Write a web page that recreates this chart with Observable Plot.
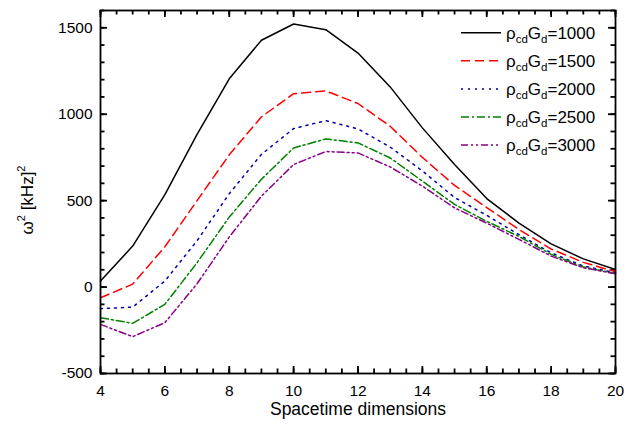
<!DOCTYPE html>
<html>
<head>
<meta charset="utf-8">
<script src="https://cdn.jsdelivr.net/npm/d3@7"></script>
<script src="https://cdn.jsdelivr.net/npm/@observablehq/plot@0.6"></script>
<style>
  html, body { margin: 0; padding: 0; background: #fff; }
  #chart { width: 634px; height: 429px; }
  svg { font-family: "Liberation Sans", Arial, sans-serif; }
</style>
</head>
<body>
<div id="chart"></div>
<script>
// Spacetime dimensions (x)
const dims = [4, 5, 6, 7, 8, 9, 10, 11, 12, 13, 14, 15, 16, 17, 18, 19, 20];
// omega^2 [kHz]^2 for each rho_cd G_d value
const rho1000 = [35, 237, 535, 883, 1205, 1428, 1522, 1489, 1354, 1158, 921, 709, 512, 370, 250, 163, 102];
const rho1500 = [-62, 17, 233, 500, 765, 985, 1119, 1135, 1062, 930, 750, 588, 460, 333, 220, 143, 89];
const rho2000 = [-125, -116, 35, 268, 540, 768, 917, 963, 915, 810, 672, 518, 415, 303, 198, 122, 83];
const rho2500 = [-177, -210, -100, 141, 405, 624, 805, 857, 834, 747, 613, 478, 380, 293, 189, 116, 79];
const rho3000 = [-216, -287, -206, 19, 290, 526, 709, 784, 776, 695, 584, 458, 370, 276, 179, 112, 77];

const seriesLabels = ["1000", "1500", "2000", "2500", "3000"];
const seriesValues = [rho1000, rho1500, rho2000, rho2500, rho3000];
const seriesColors = ["#000000", "#ff0000", "#0000a8", "#008000", "#880088"];
const seriesDash = [null, "9,5", "2,5", "8,3,2,3", "7,3,2,3,2,3"];

const xTickLabels = [4, 6, 8, 10, 12, 14, 16, 18, 20];
const yTickLabels = [-500, 0, 500, 1000, 1500];
const xMinorTicks = d3.range(4, 20.01, 0.5);
const yMinorTicks = d3.range(-500, 1601, 100);

const rows = seriesLabels.map((s, i) => dims.map((d, j) => ({series: s, dim: d, w2: seriesValues[i][j]})));

const W = 634, H = 429, ML = 100, MR = 19, MT = 10, MB = 56;
const PW = W - ML - MR, PH = H - MT - MB;
const MAJ = 7, MIN = 4.5;
const tk = {stroke: "#000", strokeWidth: 1.8};

// inward ticks drawn as rules inset to a short length
const xTicksAt = (vals, len) => [
  Plot.ruleX(vals, {x: d => d, insetTop: PH - len, ...tk}),
  Plot.ruleX(vals, {x: d => d, insetBottom: PH - len, ...tk})
];
const yTicksAt = (vals, len) => [
  Plot.ruleY(vals, {y: d => d, insetRight: PW - len, ...tk}),
  Plot.ruleY(vals, {y: d => d, insetLeft: PW - len, ...tk})
];

const chart = Plot.plot({
  width: W,
  height: H,
  marginLeft: ML,
  marginRight: MR,
  marginTop: MT,
  marginBottom: MB,
  x: {domain: [4, 20]},
  y: {domain: [-500, 1600]},
  style: {fontFamily: "'Liberation Sans', Arial, sans-serif", fontSize: "15.5px", color: "black", background: "white"},
  marks: [
    ...xTicksAt(xMinorTicks, MIN),
    ...xTicksAt(xTickLabels, MAJ),
    ...yTicksAt(yMinorTicks, MIN),
    ...yTicksAt(yTickLabels, MAJ),
    // tick labels
    Plot.axisX(xTickLabels, {anchor: "bottom", tickSize: 0, tickPadding: 11, fontSize: 15.5, label: null, tickFormat: d => String(d)}),
    Plot.axisY(yTickLabels, {anchor: "left", tickSize: 0, tickPadding: 8, fontSize: 15.5, label: null, tickFormat: d => String(d)}),
    // series
    ...rows.map((r, i) => Plot.line(r, {
      x: "dim", y: "w2",
      stroke: seriesColors[i],
      strokeWidth: 1.5,
      strokeDasharray: seriesDash[i] || undefined
    })),
    Plot.frame({stroke: "black", strokeWidth: 1.8}),
    // x axis title
    Plot.text(["Spacetime dimensions"], {frameAnchor: "bottom", dy: 41, fontSize: 17.5})
  ]
});

document.getElementById("chart").appendChild(chart);

const svg = d3.select(chart);
const FONT = "'Liberation Sans', Arial, sans-serif";

// y axis title with superscripts
const yt = svg.append("text")
  .attr("transform", "translate(33,200) rotate(-90)")
  .attr("text-anchor", "middle")
  .attr("font-size", 17).attr("font-family", FONT).attr("fill", "black");
yt.append("tspan").text("ω");
yt.append("tspan").attr("dy", -8).attr("font-size", 11).text("2");
yt.append("tspan").attr("dy", 8).text(" [kHz]");
yt.append("tspan").attr("dy", -8).attr("font-size", 11).text("2");

// Legend (upper right, inside frame)
const lg = svg.append("g").attr("class", "legend");
const legX0 = 461, legX1 = 501, legTextX = 506, legY0 = 32.7, legDY = 28.1;
seriesLabels.forEach((s, i) => {
  const y = legY0 + i * legDY;
  lg.append("line")
    .attr("x1", legX0).attr("x2", legX1).attr("y1", y).attr("y2", y)
    .attr("stroke", seriesColors[i]).attr("stroke-width", 1.5)
    .attr("stroke-dasharray", seriesDash[i]);
  const t = lg.append("text")
    .attr("x", legTextX).attr("y", y + 6)
    .attr("text-anchor", "start")
    .attr("font-size", 17).attr("fill", "black")
    .attr("font-family", FONT);
  t.append("tspan").text("ρ");
  t.append("tspan").attr("dy", 4).attr("font-size", 11.5).text("cd");
  t.append("tspan").attr("dy", -4).text("G");
  t.append("tspan").attr("dy", 4).attr("font-size", 11.5).text("d");
  t.append("tspan").attr("dy", -4).text("=" + s);
});
</script>
</body>
</html>
